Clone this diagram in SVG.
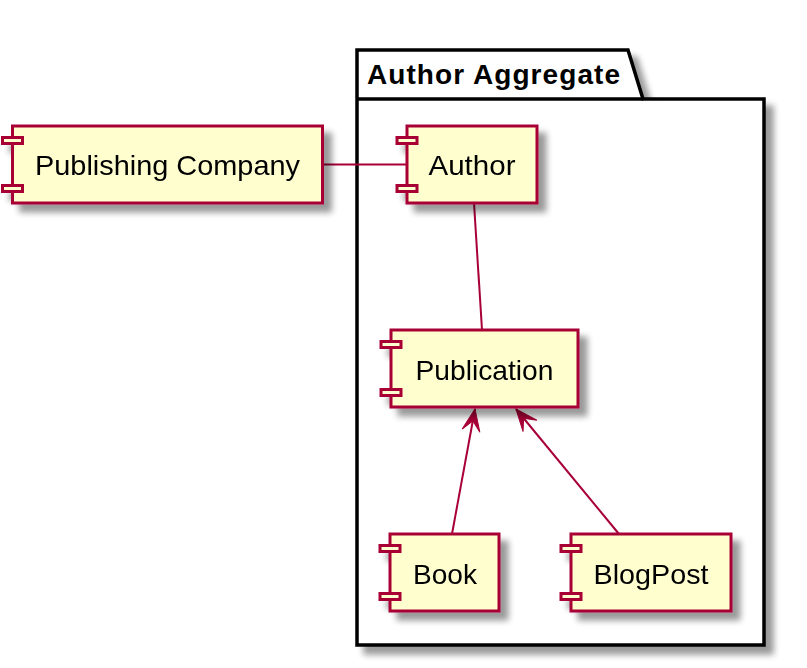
<svg xmlns="http://www.w3.org/2000/svg" width="807" height="668" viewBox="0 0 807 668">
<style>
.comp rect{fill:#FEFECE;stroke:#A80036;stroke-width:3}
.lbl{font-family:"Liberation Sans",Arial,sans-serif;font-size:28.5px;fill:#000;text-anchor:middle}
.conn line{stroke:#A80036;stroke-width:2}
.pkg{fill:#fff;stroke:#000;stroke-width:3.5}
</style>
<defs>
<filter id="sh" x="-10%" y="-10%" width="130%" height="140%">
<feGaussianBlur in="SourceAlpha" stdDeviation="3"/>
<feOffset dx="8" dy="8" result="b"/>
<feComponentTransfer in="b" result="c"><feFuncA type="linear" slope="0.4"/></feComponentTransfer>
<feMerge><feMergeNode in="c"/><feMergeNode in="SourceGraphic"/></feMerge>
</filter>
<marker id="ah" viewBox="-24 -11 26 22" refX="0" refY="0" markerWidth="26" markerHeight="22" markerUnits="userSpaceOnUse" orient="auto">
<path d="M0,0 L-22,-9 L-12,0 L-22,9 Z" fill="#A80036" stroke="#A80036" stroke-width="1"/>
</marker>
</defs>
<g id="pkg-author-aggregate">
<path class="pkg" filter="url(#sh)" d="M357,50 L628,50 L643,99 L764,99 L764,645 L357,645 Z"/>
<line x1="357" y1="99" x2="643" y2="99" stroke="#000" stroke-width="3.5"/>
<text x="367" y="84" font-family="Liberation Sans,Arial,sans-serif" font-size="28" font-weight="bold" textLength="253" lengthAdjust="spacing">Author Aggregate</text>
</g>
<g class="conn" id="connectors">
<line x1="323" y1="164.5" x2="407" y2="164.5"/>
<line x1="474" y1="203" x2="482" y2="330"/>
<line x1="452" y1="534" x2="475" y2="409" marker-end="url(#ah)"/>
<line x1="619" y1="534" x2="516" y2="409" marker-end="url(#ah)"/>
</g>
<g id="publishing-company" class="comp" filter="url(#sh)">
<rect x="12.5" y="126" width="310" height="77"/>
<rect x="2.5" y="137.5" width="20" height="6"/>
<rect x="2.5" y="185.5" width="20" height="6"/>
<text class="lbl" x="167.5" y="175" textLength="265" lengthAdjust="spacingAndGlyphs">Publishing Company</text>
</g>
<g id="author" class="comp" filter="url(#sh)">
<rect x="407" y="126" width="130" height="77"/>
<rect x="397" y="137.5" width="20" height="6"/>
<rect x="397" y="185.5" width="20" height="6"/>
<text class="lbl" x="472" y="175" textLength="87" lengthAdjust="spacingAndGlyphs">Author</text>
</g>
<g id="publication" class="comp" filter="url(#sh)">
<rect x="391" y="330" width="187" height="77"/>
<rect x="381" y="341.5" width="20" height="6"/>
<rect x="381" y="389.5" width="20" height="6"/>
<text class="lbl" x="484.5" y="380" textLength="138" lengthAdjust="spacingAndGlyphs">Publication</text>
</g>
<g id="book" class="comp" filter="url(#sh)">
<rect x="390" y="534" width="109" height="77"/>
<rect x="380" y="545.5" width="20" height="6"/>
<rect x="380" y="593.5" width="20" height="6"/>
<text class="lbl" x="445" y="584" textLength="64" lengthAdjust="spacingAndGlyphs">Book</text>
</g>
<g id="blogpost" class="comp" filter="url(#sh)">
<rect x="571" y="534" width="160" height="77"/>
<rect x="561" y="545.5" width="20" height="6"/>
<rect x="561" y="593.5" width="20" height="6"/>
<text class="lbl" x="651" y="584" textLength="115" lengthAdjust="spacingAndGlyphs">BlogPost</text>
</g>
</svg>
